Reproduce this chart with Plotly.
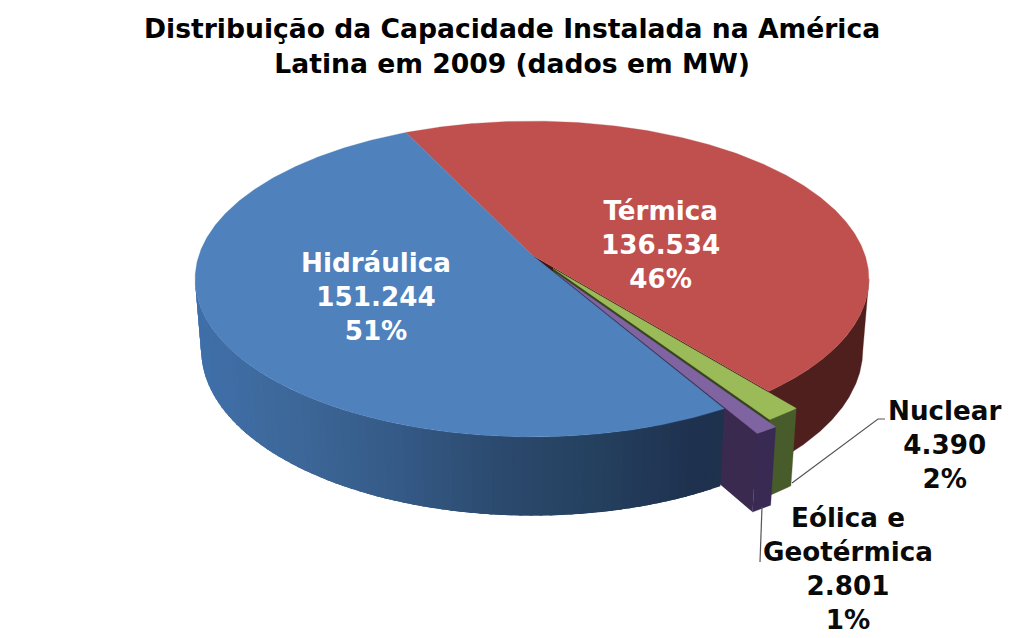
import numpy as np
import plotly.graph_objects as go

# ---- data ----
categories = ["Térmica", "Nuclear", "Eólica e<br>Geotérmica", "Hidráulica"]
values = [136534, 4390, 2801, 151244]
value_labels = ["136.534", "4.390", "2.801", "151.244"]
percent_labels = ["46%", "2%", "1%", "51%"]
explode = [0.0, 0.105, 0.14, 0.0]
top_colors = ["#bf504d", "#9bbb59", "#8064a2", "#4f81bd"]
wall_colors = ["#4f1f1d", "#485c2b", "#392a54", None]
cut_colors = ["#3d1614", "#33421f", "#3a2a50", None]
blue_wall_x = [195, 300, 400, 500, 600, 690, 730]
blue_wall_rgb = [(64, 112, 170), (61, 103, 152), (53, 90, 135), (44, 74, 110),
                 (37, 64, 95), (31, 51, 80), (30, 49, 77)]
label_xy = [(660, 245), (944, 445), (848, 569), (376, 297)]
label_color = ["white", "#0a0a0a", "#0a0a0a", "white"]
title_text = "Distribuição da Capacidade Instalada na América<br>Latina em 2009 (dados em MW)"
leader_x = [[792, 878, 885], [762, 760]]
leader_y = [[483, 419, 419], [507, 562]]

# ---- projection of the 3D pie ----
CX, CY, A, B, K, H, M = 532, 255, 333, 154.3, 0.152, 71.4, 0.018
START = -25.5
FOLD = np.degrees(np.arccos(-K))   # where the rim turns away from the viewer


def project(sx, s, level):
    sx, s = np.asarray(sx, float), np.asarray(s, float)
    w = 1 + K * s + M * level
    return CX + A * sx / w, CY + (-B * s + H * level) / w


fig = go.Figure()


def poly(x, y, color, lw=0.0):
    fig.add_trace(go.Scatter(x=list(x), y=list(y), mode="lines", fill="toself",
                             fillcolor=color, line=dict(color=color, width=lw),
                             hoverinfo="skip", showlegend=False))


total = sum(values)
edges = START + 360 * np.concatenate([[0], np.cumsum(values)]) / total

for i in range(len(values)):
    t0, t1 = edges[i], edges[i + 1]
    mid = np.radians((t0 + t1) / 2)
    ox, oy = explode[i] * np.sin(mid), explode[i] * np.cos(mid)

    def pt(theta_deg, r, level):
        th = np.radians(theta_deg)
        return project(r * np.sin(th) + ox, r * np.cos(th) + oy, level)

    # radial cut wall on the clockwise end of the slice
    if cut_colors[i] is not None:
        pts = [pt(t1, 0, 0), pt(t1, 1, 0), pt(t1, 1, 1), pt(t1, 0, 1), pt(t1, 0, 0)]
        poly([p[0] for p in pts], [p[1] for p in pts], cut_colors[i])

    # outer wall
    if wall_colors[i] is not None:
        arc = np.linspace(max(t0, FOLD), t1, max(4, int((t1 - t0) * 2)))
        xt, yt = pt(arc, 1, 0)
        xb, yb = pt(arc[::-1], 1, 1)
        poly(np.r_[xt, xb, xt[0]], np.r_[yt, yb, yt[0]], wall_colors[i], 0.3)
    else:
        th = np.arange(t0, t1, 1.5)
        for a in th:
            b = min(a + 3.5, 360 - FOLD)
            if a >= 360 - FOLD:
                continue
            arc = np.linspace(a, b, 5)
            xt, yt = pt(arc, 1, 0)
            xb, yb = pt(arc[::-1], 1, 1)
            xm = pt(a + 0.75, 1, 0)[0]
            rgb = [np.interp(xm, blue_wall_x, [c[j] for c in blue_wall_rgb]) for j in range(3)]
            poly(np.r_[xt, xb, xt[0]], np.r_[yt, yb, yt[0]], "rgb(%d,%d,%d)" % tuple(rgb))

    # top face
    arc = np.linspace(t0, t1, max(3, int((t1 - t0) * 2)))
    xs, ys = pt(arc, 1, 0)
    xa, ya = pt(0, 0, 0)
    poly(np.r_[xa, xs, xa], np.r_[ya, ys, ya], top_colors[i], 0.3)

# leader lines
for lx, ly in zip(leader_x, leader_y):
    fig.add_trace(go.Scatter(x=lx, y=ly, mode="lines", line=dict(color="#555555", width=1.2),
                             hoverinfo="skip", showlegend=False))

# data labels
for i, (name, vl, pl) in enumerate(zip(categories, value_labels, percent_labels)):
    fig.add_annotation(x=label_xy[i][0], y=label_xy[i][1], xref="x", yref="y",
                       text=f"<b>{name}<br>{vl}<br>{pl}</b>", showarrow=False, align="center",
                       font=dict(family="DejaVu Sans", size=26.2, color=label_color[i]))

fig.add_annotation(x=511.5, y=45.5, xref="x", yref="y", text=f"<b>{title_text}</b>", showarrow=False,
                   align="center", font=dict(family="DejaVu Sans", size=26.6, color="black"))

fig.update_layout(width=1023, height=638, margin=dict(l=0, r=0, t=0, b=0),
                  paper_bgcolor="white", plot_bgcolor="white", showlegend=False,
                  xaxis=dict(range=[0, 1023], visible=False, fixedrange=True),
                  yaxis=dict(range=[638, 0], visible=False, fixedrange=True))
fig.write_html("out.html", post_script="document.body.style.margin='0';",
               config={"displayModeBar": False})
